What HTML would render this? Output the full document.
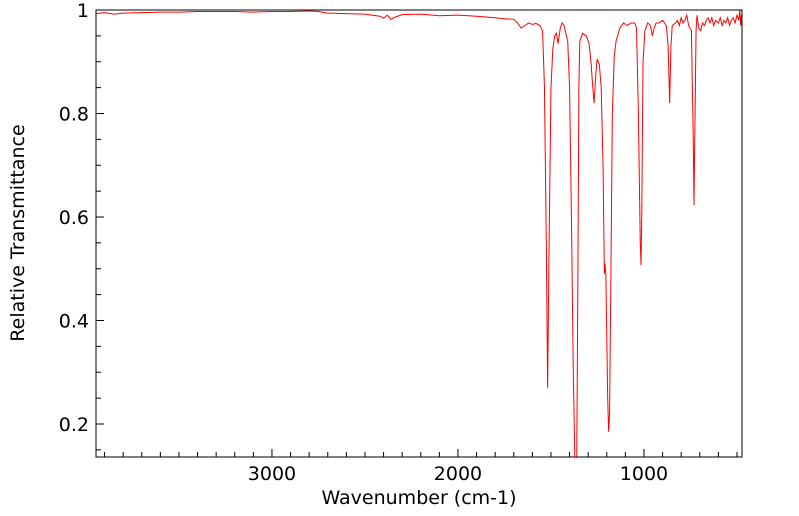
<!DOCTYPE html>
<html><head><meta charset="utf-8"><style>
body{margin:0;background:#fff;}
svg{display:block;font-family:"DejaVu Sans","Liberation Sans",sans-serif;}
</style></head><body>
<svg id="chart" width="799" height="516" xmlns="http://www.w3.org/2000/svg">
<g id="axes"></g>
<defs><clipPath id="clip"><rect x="96" y="10" width="646" height="447"/></clipPath></defs>
<path id="spectrum" fill="none" stroke="#ff0000" stroke-width="1" clip-path="url(#clip)"/>
<rect x="96" y="10" width="646" height="447" fill="none" stroke="#000" stroke-width="1"/>
<text x="419" y="504" text-anchor="middle" font-size="19">Wavenumber (cm-1)</text>
<text transform="translate(24,233) rotate(-90)" text-anchor="middle" font-size="19">Relative Transmittance</text>
</svg>
<script>
const wavenumbers = [3946,3900,3850,3800,3700,3600,3500,3400,3300,3200,3100,3000,2900,2800,2750,2700,2600,2500,2420,2400,2380,2360,2340,2300,2200,2100,2000,1900,1800,1750,1700,1680,1660,1640,1620,1600,1580,1560,1545,1535,1525,1518,1510,1500,1490,1480,1470,1462,1450,1440,1430,1420,1410,1400,1390,1380,1370,1362,1355,1350,1345,1330,1310,1295,1285,1275,1268,1260,1252,1240,1230,1220,1213,1210,1205,1195,1190,1185,1180,1170,1160,1150,1130,1110,1090,1070,1050,1040,1030,1020,1016,1012,1005,995,980,965,955,945,935,920,900,880,870,862,855,848,830,820,810,800,790,780,770,760,745,735,731,727,720,715,705,695,685,675,665,655,645,635,625,615,600,590,580,570,560,550,540,530,520,510,500,490,485,480,476,473];
const transmittance = [0.993,0.995,0.992,0.994,0.995,0.996,0.996,0.997,0.997,0.997,0.996,0.997,0.997,0.998,0.997,0.994,0.993,0.992,0.988,0.984,0.99,0.982,0.986,0.991,0.992,0.989,0.990,0.988,0.985,0.983,0.982,0.975,0.965,0.97,0.975,0.972,0.974,0.97,0.96,0.85,0.55,0.27,0.55,0.85,0.925,0.95,0.955,0.935,0.965,0.975,0.97,0.955,0.94,0.85,0.6,0.3,0.10,0.10,0.5,0.85,0.94,0.955,0.95,0.935,0.9,0.85,0.82,0.87,0.905,0.895,0.85,0.7,0.49,0.51,0.49,0.25,0.185,0.22,0.4,0.8,0.91,0.94,0.965,0.975,0.97,0.975,0.975,0.965,0.8,0.55,0.507,0.6,0.9,0.96,0.975,0.97,0.95,0.965,0.975,0.975,0.98,0.97,0.93,0.82,0.93,0.97,0.975,0.98,0.97,0.985,0.975,0.98,0.99,0.97,0.96,0.75,0.623,0.75,0.96,0.99,0.965,0.96,0.975,0.97,0.98,0.985,0.975,0.985,0.97,0.98,0.975,0.985,0.97,0.98,0.975,0.985,0.97,0.98,0.985,0.975,0.99,0.98,1.0,0.97,0.99,0.965];
const xTicks = [3000,2000,1000];
const yTicks = [0.2,0.4,0.6,0.8,1];
const yTickLabels = ["0.2","0.4","0.6","0.8","1"];

const X0=96,X1=742,Y0=10,Y1=457;
const W_MAX=3946,W_MIN=473,T_MIN=0.1362,T_MAX=1;
function xs(w){return X0+(W_MAX-w)/(W_MAX-W_MIN)*(X1-X0);}
function ys(t){return Y0+(T_MAX-t)/(T_MAX-T_MIN)*(Y1-Y0);}

let d='';
wavenumbers.forEach((w,i)=>{d+=(i?'L':'M')+xs(w).toFixed(2)+','+ys(transmittance[i]).toFixed(2);});
document.getElementById('spectrum').setAttribute('d',d);

const ax=document.getElementById('axes');
const NS='http://www.w3.org/2000/svg';
function line(x1,y1,x2,y2){const l=document.createElementNS(NS,'line');l.setAttribute('x1',x1);l.setAttribute('y1',y1);l.setAttribute('x2',x2);l.setAttribute('y2',y2);l.setAttribute('stroke','#000');l.setAttribute('stroke-width','1');


ax.appendChild(l);}
for(let w=500;w<=3900;w+=100){const x=xs(w);const major=w%1000===0;line(x,Y1,x,Y1-(major?8:5));}
for(let t=0.15;t<=1.0001;t+=0.05){const y=ys(t);const major=Math.abs(Math.round(t*10)-t*10)<1e-6&&Math.round(t*10)%2===0;line(X0,y,X0+(major?8:5),y);}
xTicks.forEach(w=>{const t=document.createElementNS(NS,'text');t.setAttribute('x',xs(w));t.setAttribute('y',Y1+23);t.setAttribute('text-anchor','middle');t.setAttribute('font-size','19');t.textContent=w;


ax.appendChild(t);});
yTicks.forEach((v,i)=>{const t=document.createElementNS(NS,'text');t.setAttribute('x',X0-7);t.setAttribute('y',ys(v)+7);t.setAttribute('text-anchor','end');t.setAttribute('font-size','19');t.textContent=yTickLabels[i];


ax.appendChild(t);});
</script>
</body></html>
